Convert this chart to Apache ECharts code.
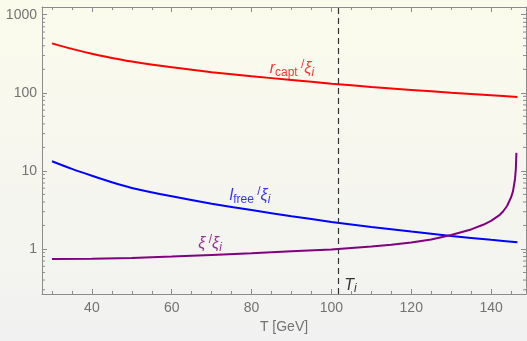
<!DOCTYPE html>
<html>
<head>
<meta charset="utf-8">
<script src="https://cdn.jsdelivr.net/npm/echarts@6.0.0/dist/echarts.min.js"></script>
<style>
  html, body { margin: 0; padding: 0; }
  #chart {
    width: 527px;
    height: 341px;
    background: linear-gradient(#fbfbec, #f1f1f1);
  }
</style>
</head>
<body>
<div id="chart"></div>
<script>
// temperatures (GeV) for the red and blue curves
let tempA = [30, 35, 40, 45, 50, 60, 70, 80, 90, 100, 110, 120, 130, 140, 146.6]
let rCapt = [430, 365, 316, 280, 252, 212, 184, 163, 146, 131, 119, 109, 100, 93, 88.5]
let lFree = [13.3, 10.6, 8.65, 7.15, 6.05, 4.72, 3.8, 3.15, 2.63, 2.22, 1.91, 1.67, 1.47, 1.31, 1.22]
// purple curve is sampled closer near the end where it blows up
let tempB = [30, 40, 50, 60, 70, 80, 90, 100, 105, 110, 115, 120, 125, 130, 135, 138, 140, 142, 143, 144, 145, 145.5, 146, 146.2, 146.35]
let xiRatio = [0.745, 0.752, 0.768, 0.8, 0.84, 0.883, 0.933, 0.986, 1.028, 1.072, 1.13, 1.21, 1.32, 1.51, 1.78, 2.04, 2.29, 2.69, 3.02, 3.55, 4.57, 5.5, 7.9, 10.5, 17]
let tI = 101.75
let yMinorTicks = [0.3, 0.4, 0.5, 0.6, 0.7, 0.8, 0.9,
  2, 3, 4, 5, 6, 7, 8, 9,
  20, 30, 40, 50, 60, 70, 80, 90,
  200, 300, 400, 500, 600, 700, 800, 900]

let xMin = 27.5
let xMax = 148.75
let yMin = 0.265
let yMax = 1256

let frameColor = '#8c8c8c'
let labelColor = '#737373'
let font = 'Liberation Sans'

function pairs (xs, ys) {
  return xs.map((x, i) => [x, ys[i]])
}

function xAxisCfg (pos, labels) {
  return {
    type: 'value',
    position: pos,
    min: xMin,
    max: xMax,
    splitLine: {show: false},
    axisLine: {lineStyle: {color: frameColor, width: 1}},
    axisTick: {inside: true, length: 5, lineStyle: {color: frameColor}},
    minorTick: {show: true, splitNumber: 4, length: 3, lineStyle: {color: frameColor}},
    axisLabel: {
      show: labels,
      color: labelColor,
      fontFamily: font,
      fontSize: 14,
      margin: 7,
      showMinLabel: false,
      showMaxLabel: false
    }
  }
}

function yAxisCfg (pos, labels) {
  return {
    type: 'log',
    position: pos,
    min: yMin,
    max: yMax,
    splitLine: {show: false},
    axisLine: {show: true, lineStyle: {color: frameColor, width: 1}},
    axisTick: {show: true, inside: true, length: 5, lineStyle: {color: frameColor}},
    axisLabel: {
      show: labels,
      color: labelColor,
      fontFamily: font,
      fontSize: 14,
      margin: 5,
      showMinLabel: false,
      showMaxLabel: false,
      formatter: v => String(v)
    }
  }
}

let richBase = {
  it: {fontFamily: font, fontSize: 16, fontStyle: 'italic', lineHeight: 20},
  sub: {fontFamily: font, fontSize: 12, verticalAlign: 'bottom', lineHeight: 14},
  subi: {fontFamily: font, fontSize: 12, fontStyle: 'italic', verticalAlign: 'bottom', lineHeight: 14},
  sl: {fontFamily: font, fontSize: 12, verticalAlign: 'top', lineHeight: 18}
}

function rich (color) {
  let r = {}
  Object.keys(richBase).forEach(k => {
    r[k] = Object.assign({color: color}, richBase[k])
  })
  return r
}

function note (x, y, text, color) {
  return {
    value: [x, y],
    label: {
      show: true,
      position: 'inside',
      formatter: text,
      rich: rich(color)
    }
  }
}

let myChart = echarts.init(document.getElementById('chart'))
myChart.setOption({
  backgroundColor: 'transparent',
  animation: false,
  grid: {left: 42, right: 1, top: 7, bottom: 47},
  xAxis: [
    Object.assign(xAxisCfg('bottom', true), {
      name: 'T [GeV]',
      nameLocation: 'middle',
      nameGap: 21,
      nameTextStyle: {color: labelColor, fontFamily: font, fontSize: 14}
    }),
    xAxisCfg('top', false)
  ],
  yAxis: [yAxisCfg('left', true), yAxisCfg('right', false)],
  series: [
    {
      name: 'minor',
      type: 'custom',
      silent: true,
      data: yMinorTicks.map(v => [xMin, v]),
      renderItem: function (params, api) {
        let y = api.coord([api.value(0), api.value(1)])[1]
        let cs = params.coordSys
        let st = {stroke: frameColor, lineWidth: 1}
        return {
          type: 'group',
          children: [
            {type: 'line', shape: {x1: cs.x, y1: y, x2: cs.x + 3, y2: y}, style: st},
            {type: 'line', shape: {x1: cs.x + cs.width, y1: y, x2: cs.x + cs.width - 3, y2: y}, style: st}
          ]
        }
      }
    },
    {
      name: 'rcapt',
      type: 'line',
      data: pairs(tempA, rCapt),
      smooth: 0.25,
      showSymbol: false,
      lineStyle: {color: '#ff0000', width: 2},
      markLine: {
        silent: true,
        symbol: 'none',
        label: {show: false},
        lineStyle: {color: '#333', width: 1.2, type: [6, 4]},
        data: [{xAxis: tI}]
      }
    },
    {
      name: 'lfree',
      type: 'line',
      data: pairs(tempA, lFree),
      smooth: 0.25,
      showSymbol: false,
      lineStyle: {color: '#0000ff', width: 2}
    },
    {
      name: 'xi',
      type: 'line',
      data: pairs(tempB, xiRatio),
      smooth: false,
      showSymbol: false,
      lineStyle: {color: '#800080', width: 2}
    },
    {
      name: 'notes',
      type: 'scatter',
      symbolSize: 0,
      silent: true,
      data: [
        note(90.1, 203, '{it|r}{sub|capt}{sl| /}{it|ξ}{subi|i}', '#ff0000'),
        note(79.6, 4.78, '{it|l}{sub|free}{sl| /}{it|ξ}{subi|i}', '#0000ff'),
        note(69.6, 1.18, '{it|ξ}{sl| /}{it|ξ}{subi|i}', '#800080'),
        note(104.8, 0.345, '{it|T}{subi|i}', '#000000')
      ]
    }
  ]
})
</script>
</body>
</html>
